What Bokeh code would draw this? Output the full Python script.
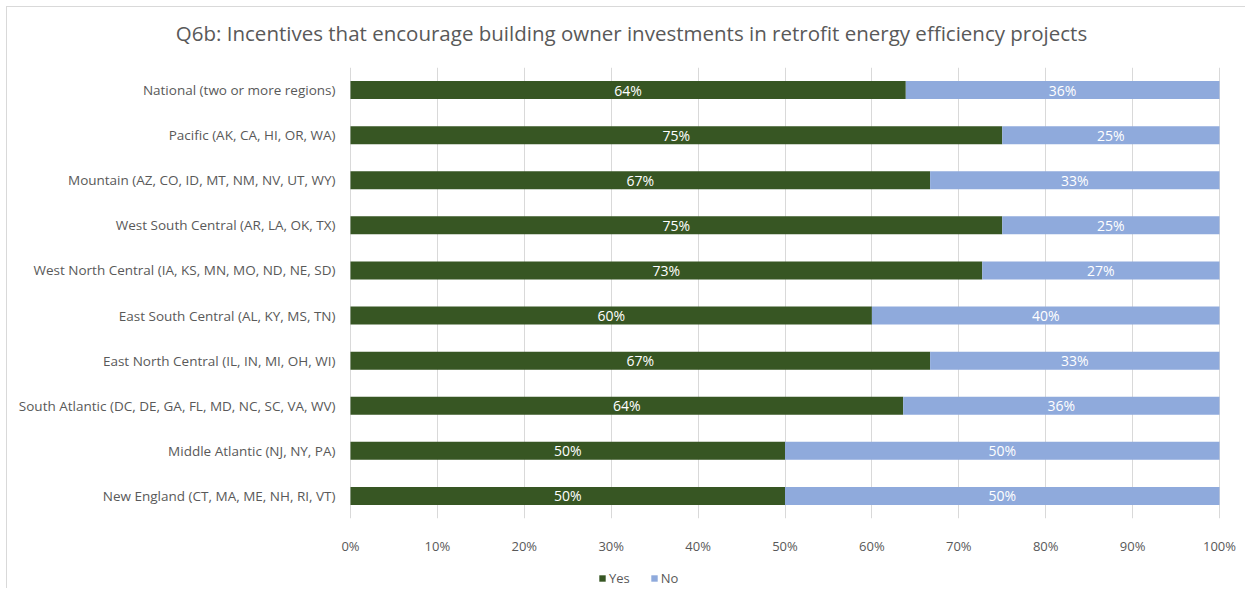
from bokeh.plotting import figure
from bokeh.layouts import column
from bokeh.models import (ColumnDataSource, FactorRange, Range1d, NumeralTickFormatter,
                          FixedTicker, Legend, LegendItem, LabelSet, Label)
from bokeh.embed import file_html
from bokeh.resources import INLINE
from bokeh.core.properties import value

# ---- data (top to bottom as shown) ----
regions = [
    "National (two or more regions)",
    "Pacific (AK, CA, HI, OR, WA)",
    "Mountain (AZ, CO, ID, MT, NM, NV, UT, WY)",
    "West South Central (AR, LA, OK, TX)",
    "West North Central (IA, KS, MN, MO, ND, NE, SD)",
    "East South Central (AL, KY, MS, TN)",
    "East North Central (IL, IN, MI, OH, WI)",
    "South Atlantic (DC, DE, GA, FL, MD, NC, SC, VA, WV)",
    "Middle Atlantic (NJ, NY, PA)",
    "New England (CT, MA, ME, NH, RI, VT)",
]
yes_share = [0.639, 0.75, 0.667, 0.75, 0.727, 0.60, 0.667, 0.636, 0.50, 0.50]
no_share = [0.361, 0.25, 0.333, 0.25, 0.273, 0.40, 0.333, 0.364, 0.50, 0.50]
series_names = ["Yes", "No"]
x_ticks = [0.0, 0.1, 0.2, 0.3, 0.4, 0.5, 0.6, 0.7, 0.8, 0.9, 1.0]
title_text = "Q6b: Incentives that encourage building owner investments in retrofit energy efficiency projects"

YES_COLOR = "#375623"
NO_COLOR = "#8FAADC"
TEXT_COLOR = "#595959"
GRID_COLOR = "#D9D9D9"
FONT = "Open Sans"

# ---- layout (pixels) ----
W = 1238
H_TOP, H_MAIN, H_LEG = 60, 490, 31
PLOT_LEFT, PLOT_RIGHT = 343, 1212          # pixel positions of 0% and 100%
PX_PER_UNIT = PLOT_RIGHT - PLOT_LEFT
LABEL_GAP = 15


def blank_fig(h):
    f = figure(width=W, height=h, output_backend="svg", toolbar_location=None,
               x_range=Range1d(0, W), y_range=Range1d(0, h),
               x_axis_type=None, y_axis_type=None,
               min_border_left=0, min_border_right=0, min_border_top=0, min_border_bottom=0,
               outline_line_color=None, border_fill_color="white", background_fill_color="white")
    f.xgrid.visible = False
    f.ygrid.visible = False
    return f


# ---- title strip (centered over the whole chart) ----
top = blank_fig(H_TOP)
top.add_layout(Label(x=624, y=H_TOP - 25, x_units="screen", y_units="screen",
                     text=title_text, text_align="center", text_baseline="middle",
                     text_font=FONT, text_font_size="20.5px", text_color=TEXT_COLOR))

# ---- main bar chart (frame spans the whole width so strips line up) ----
x_lo = -PLOT_LEFT / PX_PER_UNIT
x_hi = (W - PLOT_LEFT) / PX_PER_UNIT
p = figure(width=W, height=H_MAIN, output_backend="svg", toolbar_location=None,
           y_range=FactorRange(factors=list(reversed(regions))),
           x_range=Range1d(x_lo, x_hi), y_axis_location=None,
           min_border_left=0, min_border_right=0, min_border_top=0, min_border_bottom=30,
           outline_line_color=None, border_fill_color="white", background_fill_color="white")

no_left = yes_share
no_right = [a + b for a, b in zip(yes_share, no_share)]
src = ColumnDataSource(dict(
    region=regions,
    yes_left=[0.0] * len(regions), yes_right=yes_share,
    no_left=no_left, no_right=no_right,
    yes_mid=[r / 2 for r in yes_share],
    no_mid=[(a + b) / 2 for a, b in zip(no_left, no_right)],
    yes_lbl=["{:.0f}%".format(v * 100) for v in yes_share],
    no_lbl=["{:.0f}%".format(v * 100) for v in no_share],
    cat_x=[-LABEL_GAP / PX_PER_UNIT] * len(regions),
))

p.hbar(y="region", left="yes_left", right="yes_right", height=0.4, source=src,
       fill_color=YES_COLOR, line_color=None)
p.hbar(y="region", left="no_left", right="no_right", height=0.4, source=src,
       fill_color=NO_COLOR, line_color=None)

for xcol, tcol in (("yes_mid", "yes_lbl"), ("no_mid", "no_lbl")):
    p.add_layout(LabelSet(x=xcol, y="region", text=tcol, source=src,
                          text_color="white", text_font=value(FONT), text_font_size="14px",
                          text_align="center", text_baseline="middle"))

# category labels (left of the 0% line)
p.text(x="cat_x", y="region", text="region", source=src, text_align="right",
       text_baseline="middle", text_color=TEXT_COLOR, text_font=value(FONT),
       text_font_size="13.5px")

p.xaxis.ticker = FixedTicker(ticks=x_ticks)
p.xaxis.formatter = NumeralTickFormatter(format="0%")
p.xaxis.axis_line_color = None
p.xaxis.major_tick_line_color = None
p.xaxis.minor_tick_line_color = None
p.xaxis.major_label_text_color = TEXT_COLOR
p.xaxis.major_label_text_font = FONT
p.xaxis.major_label_text_font_size = "13px"
p.xaxis.major_label_standoff = 12

p.xgrid.grid_line_color = GRID_COLOR
p.xgrid.ticker = FixedTicker(ticks=x_ticks)
p.ygrid.grid_line_color = None

# ---- legend strip (legend-only renderers have zero size) ----
leg = blank_fig(H_LEG)
lr_yes = leg.hbar(y=[0], left=[0], right=[0], height=0, fill_color=YES_COLOR, line_color=None)
lr_no = leg.hbar(y=[0], left=[0], right=[0], height=0, fill_color=NO_COLOR, line_color=None)
legend = Legend(items=[LegendItem(label=series_names[0], renderers=[lr_yes]),
                       LegendItem(label=series_names[1], renderers=[lr_no])],
                location=(591, 1), orientation="horizontal",
                glyph_width=8, glyph_height=8, label_text_font=FONT,
                label_text_font_size="13px", label_text_color=TEXT_COLOR,
                padding=0, spacing=20, label_standoff=3, border_line_color=None,
                background_fill_alpha=0, margin=0, label_height=12)
leg.add_layout(legend, "center")

layout = column(top, p, leg, spacing=0)
layout.styles = {"border-left": "1px solid #D9D9D9", "border-top": "1px solid #D9D9D9",
                 "margin-left": "6px", "margin-top": "6px"}

open("out.html", "w").write(file_html(layout, INLINE))
